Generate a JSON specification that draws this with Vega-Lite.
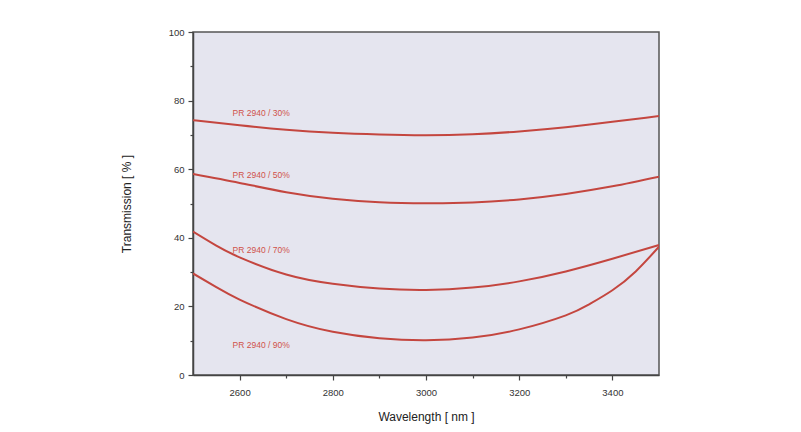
{
  "$schema": "https://vega.github.io/schema/vega-lite/v6.json",
  "width": 466,
  "height": 343,
  "autosize": {"type": "none"},
  "padding": {"left": 193, "top": 32, "right": 142, "bottom": 57},
  "background": "#ffffff",
  "config": {
    "view": {"fill": "#e5e5ef", "stroke": "#555555", "strokeWidth": 1.5},
    "font": "Liberation Sans",
    "axis": {"grid": false, "domainColor": "#444444", "domainWidth": 1.5, "tickColor": "#444444", "tickWidth": 1.2, "labelColor": "#333333", "labelFont": "Liberation Sans", "labelFontSize": 9.5, "titleFont": "Liberation Sans", "titleFontSize": 12, "titleFontWeight": "normal", "titleColor": "#222222"}
  },
  "datasets": {
    "curves": [
      {"wl": 2500, "t": 74.3, "s": "30"}, {"wl": 2600, "t": 72.8, "s": "30"}, {"wl": 2700, "t": 71.5, "s": "30"}, {"wl": 2800, "t": 70.6, "s": "30"}, {"wl": 2900, "t": 70.1, "s": "30"}, {"wl": 3000, "t": 69.9, "s": "30"}, {"wl": 3100, "t": 70.2, "s": "30"}, {"wl": 3200, "t": 71.0, "s": "30"}, {"wl": 3300, "t": 72.2, "s": "30"}, {"wl": 3400, "t": 73.8, "s": "30"}, {"wl": 3500, "t": 75.5, "s": "30"},
      {"wl": 2500, "t": 58.6, "s": "50"}, {"wl": 2600, "t": 56.0, "s": "50"}, {"wl": 2700, "t": 53.3, "s": "50"}, {"wl": 2800, "t": 51.4, "s": "50"}, {"wl": 2900, "t": 50.4, "s": "50"}, {"wl": 3000, "t": 50.1, "s": "50"}, {"wl": 3100, "t": 50.3, "s": "50"}, {"wl": 3200, "t": 51.2, "s": "50"}, {"wl": 3300, "t": 52.8, "s": "50"}, {"wl": 3400, "t": 55.0, "s": "50"}, {"wl": 3500, "t": 57.8, "s": "50"},
      {"wl": 2500, "t": 41.8, "s": "70"}, {"wl": 2550, "t": 37.7, "s": "70"}, {"wl": 2600, "t": 34.3, "s": "70"}, {"wl": 2700, "t": 29.3, "s": "70"}, {"wl": 2800, "t": 26.6, "s": "70"}, {"wl": 2900, "t": 25.2, "s": "70"}, {"wl": 3000, "t": 24.8, "s": "70"}, {"wl": 3100, "t": 25.5, "s": "70"}, {"wl": 3200, "t": 27.3, "s": "70"}, {"wl": 3300, "t": 30.2, "s": "70"}, {"wl": 3400, "t": 33.9, "s": "70"}, {"wl": 3500, "t": 37.9, "s": "70"},
      {"wl": 2500, "t": 29.6, "s": "90"}, {"wl": 2550, "t": 25.6, "s": "90"}, {"wl": 2600, "t": 22.0, "s": "90"}, {"wl": 2700, "t": 16.3, "s": "90"}, {"wl": 2800, "t": 12.6, "s": "90"}, {"wl": 2900, "t": 10.7, "s": "90"}, {"wl": 3000, "t": 10.1, "s": "90"}, {"wl": 3100, "t": 10.9, "s": "90"}, {"wl": 3200, "t": 13.3, "s": "90"}, {"wl": 3300, "t": 17.4, "s": "90"}, {"wl": 3350, "t": 20.6, "s": "90"}, {"wl": 3400, "t": 24.7, "s": "90"}, {"wl": 3450, "t": 30.2, "s": "90"}, {"wl": 3500, "t": 37.4, "s": "90"}
    ],
    "labels": [
      {"wl": 2585, "t": 76.4, "text": "PR 2940 / 30%"},
      {"wl": 2585, "t": 58.3, "text": "PR 2940 / 50%"},
      {"wl": 2585, "t": 36.4, "text": "PR 2940 / 70%"},
      {"wl": 2585, "t": 8.7, "text": "PR 2940 / 90%"}
    ]
  },
  "layer": [
    {
      "data": {"name": "curves"},
      "mark": {"type": "line", "interpolate": "natural", "color": "#c4463f", "strokeWidth": 2, "clip": true},
      "encoding": {
        "x": {"field": "wl", "type": "quantitative", "scale": {"domain": [2500, 3500], "nice": false, "zero": false}, "axis": {"values": [2600, 2800, 3000, 3200, 3400], "format": "d", "tickSize": 5, "labelPadding": 7, "title": "Wavelength [ nm ]", "titlePadding": 15, "orient": "bottom"}},
        "y": {"field": "t", "type": "quantitative", "scale": {"domain": [0, 100], "nice": false}, "axis": {"values": [0, 20, 40, 60, 80, 100], "tickSize": 5, "labelPadding": 4, "title": "Transmission [ % ]", "titlePadding": 35, "orient": "left"}},
        "detail": {"field": "s"}
      }
    },
    {
      "data": {"name": "labels"},
      "mark": {"type": "text", "align": "left", "baseline": "middle", "color": "#d0524a", "fontSize": 8.5, "font": "Liberation Sans"},
      "encoding": {
        "x": {"field": "wl", "type": "quantitative", "axis": {"values": [2700, 2900, 3100, 3300], "tickSize": 3, "labels": false, "title": null, "domain": false, "orient": "bottom"}},
        "y": {"field": "t", "type": "quantitative", "axis": {"values": [10, 30, 50, 70, 90], "tickSize": 3, "labels": false, "title": null, "domain": false, "orient": "left"}},
        "text": {"field": "text"}
      }
    }
  ],
  "resolve": {"axis": {"x": "independent", "y": "independent"}}
}
